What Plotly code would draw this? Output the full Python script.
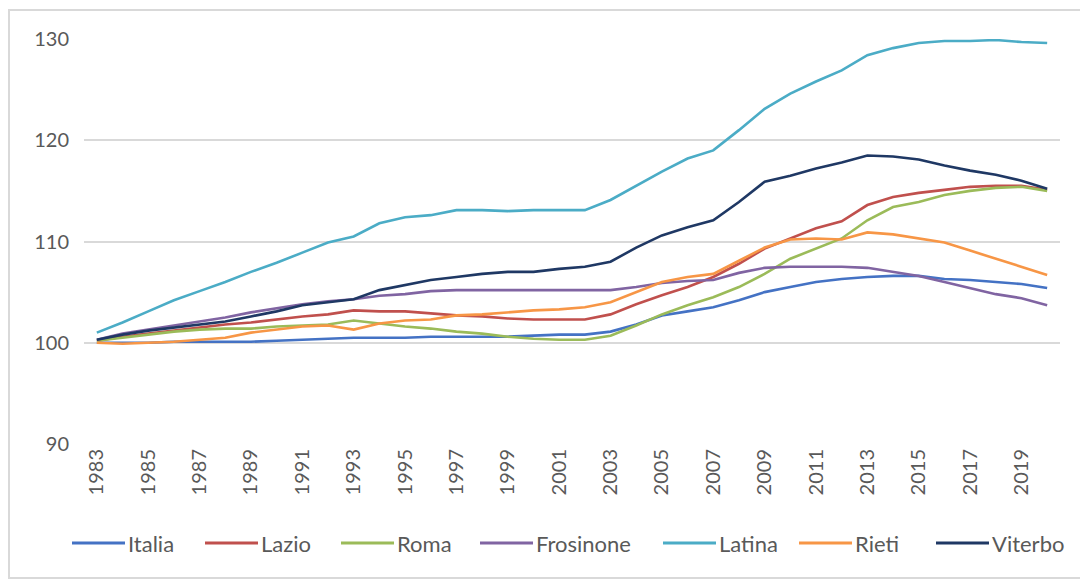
import plotly.graph_objects as go

# Index numbers (1983 = 100) by area
years = list(range(1983, 2021))
tick_years = list(range(1983, 2020, 2))

names = ["Italia", "Lazio", "Roma", "Frosinone", "Latina", "Rieti", "Viterbo"]
colors = ["#4472C4", "#C0504D", "#9BBB59", "#8064A2", "#4BACC6", "#F79646", "#1F3864"]

italia = [100.0, 100.0, 100.0, 100.1, 100.1, 100.1, 100.1, 100.2, 100.3, 100.4,
          100.5, 100.5, 100.5, 100.6, 100.6, 100.6, 100.6, 100.7, 100.8, 100.8,
          101.1, 101.8, 102.7, 103.1, 103.5, 104.2, 105.0, 105.5, 106.0, 106.3,
          106.5, 106.6, 106.6, 106.3, 106.2, 106.0, 105.8, 105.4]
lazio = [100.2, 100.6, 100.9, 101.2, 101.5, 101.8, 102.0, 102.3, 102.6, 102.8,
         103.2, 103.1, 103.1, 102.9, 102.7, 102.6, 102.4, 102.3, 102.3, 102.3,
         102.8, 103.8, 104.7, 105.5, 106.5, 107.8, 109.3, 110.3, 111.3, 112.0,
         113.6, 114.4, 114.8, 115.1, 115.4, 115.5, 115.5, 115.1]
roma = [100.2, 100.5, 100.8, 101.1, 101.3, 101.4, 101.4, 101.6, 101.7, 101.8,
        102.2, 101.9, 101.6, 101.4, 101.1, 100.9, 100.6, 100.4, 100.3, 100.3,
        100.7, 101.7, 102.8, 103.7, 104.5, 105.5, 106.8, 108.3, 109.3, 110.3,
        112.1, 113.4, 113.9, 114.6, 115.0, 115.3, 115.4, 115.0]
frosinone = [100.3, 100.9, 101.3, 101.7, 102.1, 102.5, 103.0, 103.4, 103.8, 104.1,
             104.3, 104.65, 104.8, 105.1, 105.2, 105.2, 105.2, 105.2, 105.2, 105.2,
             105.2, 105.5, 105.9, 106.1, 106.2, 106.9, 107.4, 107.5, 107.5, 107.5,
             107.4, 107.0, 106.6, 106.0, 105.4, 104.8, 104.4, 103.7]
latina = [101.0, 102.0, 103.1, 104.2, 105.1, 106.0, 107.0, 107.9, 108.9, 109.9,
          110.5, 111.8, 112.4, 112.6, 113.1, 113.1, 113.0, 113.1, 113.1, 113.1,
          114.1, 115.5, 116.9, 118.2, 119.0, 121.0, 123.1, 124.6, 125.8, 126.9,
          128.4, 129.1, 129.6, 129.8, 129.8, 129.9, 129.7, 129.6]
rieti = [100.0, 99.9, 100.0, 100.1, 100.3, 100.5, 101.0, 101.3, 101.6, 101.7,
         101.3, 101.9, 102.2, 102.3, 102.7, 102.8, 103.0, 103.2, 103.3, 103.5,
         104.0, 105.0, 106.0, 106.5, 106.8, 108.1, 109.4, 110.2, 110.3, 110.2,
         110.9, 110.7, 110.3, 109.9, 109.1, 108.3, 107.5, 106.7]
viterbo = [100.3, 100.8, 101.2, 101.5, 101.8, 102.1, 102.6, 103.1, 103.7, 104.0,
           104.3, 105.2, 105.7, 106.2, 106.5, 106.8, 107.0, 107.0, 107.3, 107.5,
           108.0, 109.4, 110.6, 111.4, 112.1, 113.9, 115.9, 116.5, 117.2, 117.8,
           118.5, 118.4, 118.1, 117.5, 117.0, 116.6, 116.0, 115.2]

series = [italia, lazio, roma, frosinone, latina, rieti, viterbo]

W, H = 1080, 581
M_L, M_R, M_T, M_B = 84, 20, 39, 137
PW, PH = W - M_L - M_R, H - M_T - M_B
TEXT = "#595959"
GRID = "#D9D9D9"


def px_x(x):
    return (x - M_L) / PW


def px_y(y):
    return (H - M_B - y) / PH


fig = go.Figure()
for name, color, vals in zip(names, colors, series):
    fig.add_trace(go.Scatter(
        x=years, y=vals, name=name, mode="lines",
        line=dict(color=color, width=2.6),
        showlegend=False,
    ))

# Legend row: a short line sample followed by the series name
legend_line_x = [72, 205, 341, 480, 663, 799, 936]
legend_y = px_y(543)
shapes = []
annotations = []
for name, color, lx in zip(names, colors, legend_line_x):
    shapes.append(dict(type="line", xref="paper", yref="paper",
                       x0=px_x(lx), x1=px_x(lx + 53), y0=legend_y, y1=legend_y,
                       line=dict(color=color, width=3)))
    annotations.append(dict(xref="paper", yref="paper", x=px_x(lx + 54), y=legend_y,
                            xanchor="left", yanchor="middle", showarrow=False,
                            text=name, font=dict(family="Lato", size=22, color=TEXT)))

# Light frame around the whole chart
shapes.append(dict(type="rect", xref="paper", yref="paper",
                   x0=px_x(9), x1=px_x(1090), y0=px_y(10), y1=px_y(578),
                   line=dict(color=GRID, width=2), fillcolor="rgba(0,0,0,0)",
                   layer="below"))

fig.update_layout(
    width=W, height=H,
    margin=dict(l=M_L, r=M_R, t=M_T, b=M_B),
    paper_bgcolor="white", plot_bgcolor="white",
    font=dict(family="Lato", size=20, color=TEXT),
    shapes=shapes, annotations=annotations,
    xaxis=dict(
        range=[1982.5, 2020.5], tickmode="array", tickvals=tick_years,
        ticktext=[str(y) for y in tick_years], tickangle=-90,
        showgrid=False, zeroline=False, showline=False, ticks="",
        tickfont=dict(family="Lato", size=20, color=TEXT),
    ),
    yaxis=dict(
        range=[90, 130], dtick=10, showgrid=True, gridcolor=GRID, gridwidth=2,
        zeroline=False, showline=False, ticks="", ticklabelstandoff=14,
        tickfont=dict(family="Lato", size=20, color=TEXT),
    ),
)

fig.write_html("out.html")
